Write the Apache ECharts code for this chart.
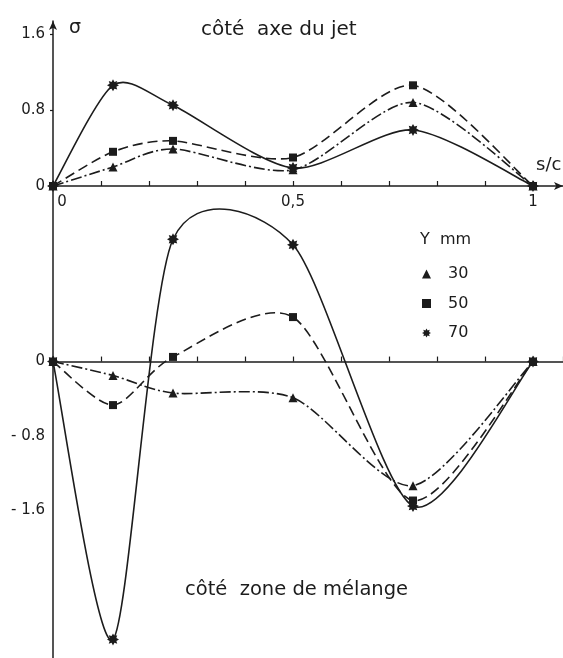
<!DOCTYPE html>
<html><head><meta charset="utf-8">
<script src="https://cdn.jsdelivr.net/npm/echarts@6/dist/echarts.min.js"></script>
<style>html,body{margin:0;padding:0;background:#fff}#c{width:563px;height:658px}</style>
</head><body><div id="c"></div>
<script>
var sc = [0, 0.125, 0.25, 0.5, 0.75, 1];
var top30 = [0, 0.20, 0.39, 0.17, 0.88, 0];
var top50 = [0, 0.36, 0.475, 0.30, 1.06, 0];
var top70 = [0, 1.06, 0.85, 0.19, 0.59, 0];
var bot30 = [0, -0.15, -0.34, -0.39, -1.34, 0];
var bot50 = [0, -0.47, 0.05, 0.48, -1.50, 0];
var bot70 = [0, -3.0, 1.32, 1.26, -1.56, 0];
var yLabels = ['30', '50', '70'];
var topTicks = ['0', '0.8', '1.6'];
var botTicks = ['0', '- 0.8', '- 1.6'];
var xTicks = ['0', '0,5', '1'];

var INK = '#1c1c1c';
var FONT = 'DejaVu Sans';
var STAR = 'path://M10,0L5.6,2.4L7.07,7.07L2.4,5.6L0,10L-2.4,5.6L-7.07,7.07L-5.6,2.4L-10,0L-5.6,-2.4L-7.07,-7.07L-2.4,-5.6L0,-10L2.4,-5.6L7.07,-7.07L5.6,-2.4Z';
var symbols = ['triangle', 'rect', STAR];
var sizes = [9, 8, 12];
var dashes = [[11, 3, 2, 3], [10, 5], null];
var TENSION = 0.13;

function pairs(arr) { return sc.map(function (x, i) { return [x, arr[i]]; }); }

// smooth curve through the data points, drawn in the axis coordinate system
function curveRenderer(values, k) {
  return function (params, api) {
    if (params.dataIndex !== 0) return null;
    var pts = sc.map(function (x, i) { return api.coord([x, values[i]]); });
    var d = 'M' + pts[0][0] + ',' + pts[0][1];
    for (var i = 0; i < pts.length - 1; i++) {
      var p0 = pts[i - 1] || pts[i], p1 = pts[i], p2 = pts[i + 1], p3 = pts[i + 2] || pts[i + 1];
      var c1x = p1[0] + (p2[0] - p0[0]) * TENSION, c1y = p1[1] + (p2[1] - p0[1]) * TENSION;
      var c2x = p2[0] - (p3[0] - p1[0]) * TENSION, c2y = p2[1] - (p3[1] - p1[1]) * TENSION;
      d += 'C' + c1x + ',' + c1y + ',' + c2x + ',' + c2y + ',' + p2[0] + ',' + p2[1];
    }
    return {
      type: 'path', shape: { pathData: d },
      style: { stroke: INK, fill: null, lineWidth: 1.6, lineDash: dashes[k] || null }
    };
  };
}

var series = [];
[[top30, bot30], [top50, bot50], [top70, bot70]].forEach(function (p, k) {
  [0, 1].forEach(function (g) {
    series.push({
      type: 'custom', xAxisIndex: g, yAxisIndex: g, clip: false, silent: true,
      data: pairs(p[g]), renderItem: curveRenderer(p[g], k), z: 2
    });
    series.push({
      name: yLabels[k], type: 'scatter', xAxisIndex: g, yAxisIndex: g,
      data: pairs(p[g]), symbol: symbols[k], symbolSize: sizes[k], clip: false,
      itemStyle: { color: INK, opacity: 1 }, emphasis: { disabled: true }, z: 3
    });
  });
});

function xAxis(grid, showLabels, arrow) {
  return {
    type: 'value', gridIndex: grid, min: 0, max: 1.0625, interval: 0.1,
    axisLine: { onZero: true, lineStyle: { color: INK, width: 1.5 },
      symbol: arrow ? ['none', 'arrow'] : 'none', symbolSize: [6, 9] },
    axisTick: { show: true, inside: true, length: 5, lineStyle: { color: INK, width: 1.2 } },
    splitLine: { show: false },
    axisLabel: {
      show: showLabels, color: INK, fontFamily: FONT, fontSize: 15, margin: 9,
      showMaxLabel: false,
      formatter: function (v) {
        var r = Math.round(v * 10);
        if (r === 0) return '{a|' + xTicks[0] + '}';
        if (r === 5) return xTicks[1];
        if (r === 10) return xTicks[2];
        return '';
      },
      rich: { a: { color: INK, fontFamily: FONT, fontSize: 15, padding: [0, 0, 0, 18] } }
    }
  };
}

var option = {
  backgroundColor: '#fff',
  animation: false,
  textStyle: { fontFamily: FONT },
  grid: [
    { left: 53, top: 21, width: 510, height: 165 },
    { left: 53, top: 186, width: 510, height: 483 }
  ],
  xAxis: [xAxis(0, true, true), xAxis(1, false, false)],
  yAxis: [
    {
      type: 'value', gridIndex: 0, min: 0, max: 1.737, interval: 0.8,
      axisLine: { show: true, lineStyle: { color: INK, width: 1.5 }, symbol: ['none', 'arrow'], symbolSize: [6, 9] },
      axisTick: { show: true, length: 3, lineStyle: { color: INK, width: 1.2 } },
      splitLine: { show: false },
      axisLabel: {
        color: INK, fontFamily: FONT, fontSize: 15, margin: 8, showMaxLabel: false,
        formatter: function (v) {
          var r = Math.round(v * 10);
          if (r === 0) return topTicks[0];
          if (r === 8) return topTicks[1];
          if (r === 16) return topTicks[2];
          return '';
        }
      }
    },
    {
      type: 'value', gridIndex: 1, min: -3.2, max: 1.895, interval: 0.8,
      axisLine: { show: true, onZero: false, lineStyle: { color: INK, width: 1.5 } },
      axisTick: { show: false },
      splitLine: { show: false },
      axisLabel: {
        color: INK, fontFamily: FONT, fontSize: 15, margin: 8, showMaxLabel: false,
        formatter: function (v) {
          var r = Math.round(v * 10);
          if (r === 0) return botTicks[0];
          if (r === -8) return botTicks[1];
          if (r === -16) return botTicks[2];
          return '';
        }
      }
    }
  ],
  title: [
    { text: 'côté  axe du jet', left: 196, top: 15, textStyle: { color: INK, fontFamily: FONT, fontSize: 20, fontWeight: 'normal' } },
    { text: 'σ', left: 64, top: 14, textStyle: { color: INK, fontFamily: FONT, fontSize: 19, fontWeight: 'normal' } },
    { text: 's/c', left: 531, top: 151, textStyle: { color: INK, fontFamily: FONT, fontSize: 18, fontWeight: 'normal' } },
    { text: 'Y  mm', left: 415, top: 227, textStyle: { color: INK, fontFamily: FONT, fontSize: 16, fontWeight: 'normal' } },
    { text: 'côté  zone de mélange', left: 180, top: 575, textStyle: { color: INK, fontFamily: FONT, fontSize: 19.5, fontWeight: 'normal' } }
  ],
  legend: {
    orient: 'vertical', left: 417, top: 261, itemGap: 13.5, itemWidth: 9, itemHeight: 9,
    selectedMode: false,
    textStyle: { color: INK, fontFamily: FONT, fontSize: 16, lineHeight: 16, padding: [0, 0, 0, 12] },
    data: yLabels.map(function (n, k) {
      return { name: n, icon: symbols[k], itemStyle: { color: INK } };
    })
  },
  series: series
};
var chart = echarts.init(document.getElementById('c'), null, { renderer: 'canvas' });
chart.setOption(option);
</script></body></html>
